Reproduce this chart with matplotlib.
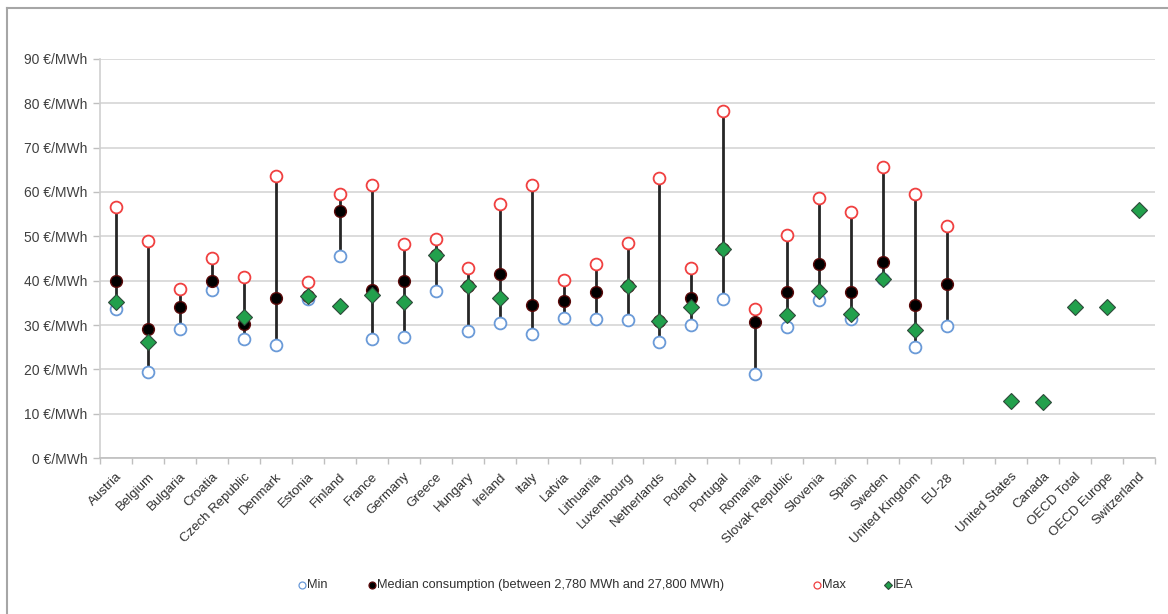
import matplotlib
matplotlib.use('Agg')
import matplotlib.pyplot as plt
from matplotlib.lines import Line2D
import numpy as np

plt.rcParams.update({
    'font.family': ['Liberation Sans', 'DejaVu Sans'],
    'font.size': 10,
})

nan = np.nan
countries = ['Austria', 'Belgium', 'Bulgaria', 'Croatia', 'Czech Republic', 'Denmark',
             'Estonia', 'Finland', 'France', 'Germany', 'Greece', 'Hungary', 'Ireland',
             'Italy', 'Latvia', 'Lithuania', 'Luxembourg', 'Netherlands', 'Poland',
             'Portugal', 'Romania', 'Slovak Republic', 'Slovenia', 'Spain', 'Sweden',
             'United Kingdom', 'EU-28', '', 'United States', 'Canada', 'OECD Total',
             'OECD Europe', 'Switzerland']

v_min = [33.7, 19.5, 29.2, 38.0, 26.8, 25.5, 35.9, 45.5, 26.8, 27.4, 37.7, 28.6, 30.5,
         28.0, 31.6, 31.4, 31.2, 26.1, 30.1, 35.9, 18.9, 29.5, 35.7, 31.4, 40.4,
         25.0, 29.7, nan, nan, nan, nan, nan, nan]
v_median = [40.0, 29.2, 34.0, 40.0, 30.2, 36.2, 36.6, 55.8, 38.0, 40.0, 45.9, 38.9, 41.5,
            34.4, 35.5, 37.4, 38.7, 31.0, 36.2, 47.2, 30.6, 37.4, 43.8, 37.4, 44.1,
            34.6, 39.2, nan, nan, nan, nan, nan, nan]
v_max = [56.5, 48.9, 38.1, 45.1, 40.8, 63.5, 39.7, 59.6, 61.6, 48.3, 49.5, 42.8, 57.4,
         61.6, 40.2, 43.8, 48.5, 63.1, 42.9, 78.2, 33.7, 50.2, 58.6, 55.4, 65.7,
         59.5, 52.4, nan, nan, nan, nan, nan, nan]
v_iea = [35.3, 26.1, nan, nan, 31.7, nan, 36.6, 34.2, 36.7, 35.3, 45.9, 38.9, 36.1,
         nan, nan, nan, 38.7, 31.0, 34.0, 47.2, nan, 32.3, 37.6, 32.5, 40.4,
         28.9, nan, nan, 12.9, 12.6, 34.0, 34.0, 55.9]

series_labels = ['Min', 'Median consumption (between 2,780 MWh and 27,800 MWh)', 'Max', 'IEA']

x = np.arange(len(countries))
W, H = 1168, 614

fig = plt.figure(figsize=(11.68, 6.14), dpi=100)
ax = fig.add_axes([0.0856, 0.254, 0.9033, 0.65])

# high-low lines
ax.vlines(x, v_min, v_max, color='#262626', lw=2.0, zorder=2)

styles = [
    dict(marker='o', mfc='white', mec='#6A9AD8', mew=1.3),
    dict(marker='o', mfc='black', mec='#5A0A0A', mew=1.0),
    dict(marker='o', mfc='white', mec='#F04040', mew=1.3),
    dict(marker='D', mfc='#22A04C', mec='#2E4A3A', mew=0.8),
]
sizes = [8.5, 8.5, 8.5, 8.5]
for vals, st, ms, z in zip([v_min, v_median, v_max, v_iea], styles, sizes, [3, 4, 3, 5]):
    ax.plot(x, vals, ls='none', ms=ms, zorder=z, **st)

ax.set_xlim(-0.5, len(countries) - 0.5)
ax.set_ylim(0, 90)
ax.set_yticks(range(0, 91, 10))
ax.set_yticklabels([f'{v} €/MWh' for v in range(0, 91, 10)], fontsize=10, color='#404040')
ax.set_xticks(x)
ax.set_xticklabels(countries, rotation=45, ha='right', va='top', rotation_mode='anchor',
                   fontsize=9.5, color='#303030')
ax.set_xticks(np.arange(-0.5, len(countries), 1), minor=True)
ax.tick_params(axis='x', which='major', length=0, pad=9)
ax.tick_params(axis='x', which='minor', length=4, color='#BFBFBF', width=1)
ax.tick_params(axis='y', length=5, color='#BFBFBF', width=1, pad=4)

ax.grid(True, axis='y', color='#D9D9D9', lw=1.3)
ax.set_axisbelow(True)
for s in ['top', 'right']:
    ax.spines[s].set_visible(False)
ax.spines['left'].set_color('#D0D0D0')
ax.spines['bottom'].set_color('#BFBFBF')
ax.spines['left'].set_linewidth(1.2)
ax.spines['bottom'].set_linewidth(1.2)

# legend laid out like the original (uneven spacing)
leg_x = [302, 372, 817, 888]
leg_y = 585
leg_ms = [5, 5, 5, 4.5]
for lx, st, ms, lab in zip(leg_x, styles, leg_ms, series_labels):
    st2 = dict(st)
    st2['mew'] = min(st['mew'], 0.9)
    fig.add_artist(Line2D([lx / W], [1 - leg_y / H], transform=fig.transFigure,
                          ls='none', ms=ms, **st2))
    fig.text((lx + 5) / W, 1 - leg_y / H, lab, ha='left', va='center',
             fontsize=9.2, color='#303030')

# chart-area border (top and left visible in the crop)
fig.add_artist(Line2D([0.006, 1.0], [0.987, 0.987], transform=fig.transFigure,
                      color='#A6A6A6', lw=1.5))
fig.add_artist(Line2D([0.006, 0.006], [0.0, 0.987], transform=fig.transFigure,
                      color='#A6A6A6', lw=1.5))

fig.savefig('out.png', dpi=100)
